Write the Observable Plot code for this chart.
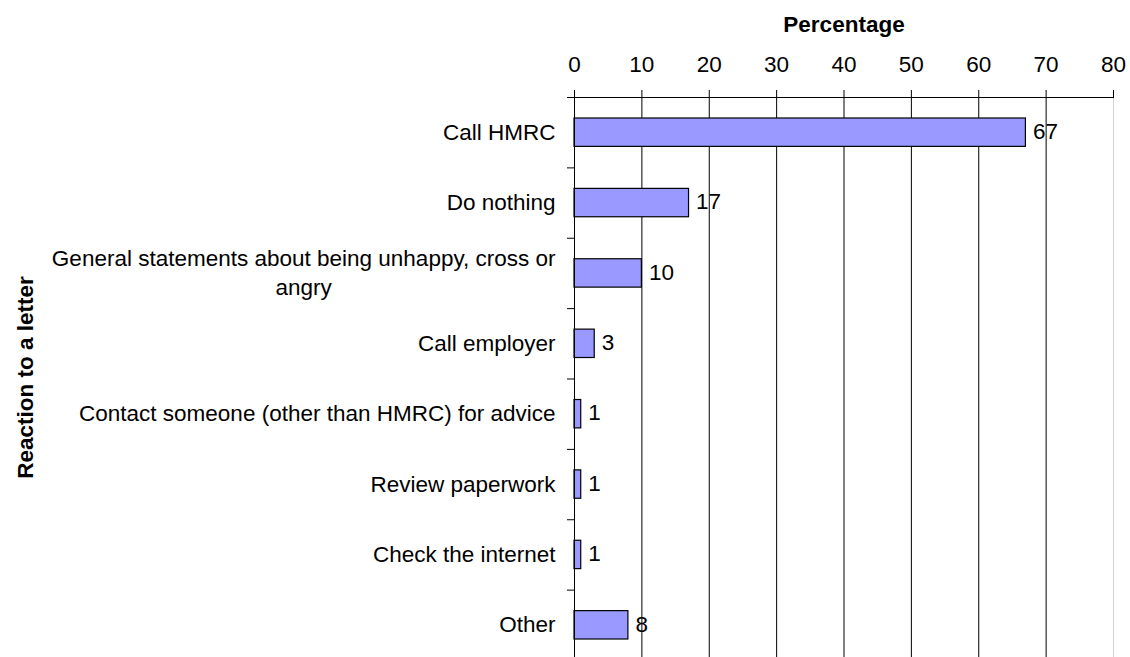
<!DOCTYPE html>
<html>
<head>
<meta charset="utf-8">
<script src="https://cdn.jsdelivr.net/npm/d3@7"></script>
<script src="https://cdn.jsdelivr.net/npm/@observablehq/plot@0.6"></script>
<style>
  html, body { margin: 0; padding: 0; background: #fff; }
  #chart svg { display: block; }
</style>
</head>
<body>
<div id="chart"></div>
<script>
const categories = [
  "Call HMRC",
  "Do nothing",
  "General statements about being unhappy, cross or\nangry",
  "Call employer",
  "Contact someone (other than HMRC) for advice",
  "Review paperwork",
  "Check the internet",
  "Other"
];
const values = [67, 17, 10, 3, 1, 1, 1, 8];
const xTicks = [0, 10, 20, 30, 40, 50, 60, 70, 80];
const xTitle = "Percentage";
const yTitle = "Reaction to a letter";

const FONT = "'Liberation Sans', Arial, sans-serif";
const FS = 22.5;

const data = categories.map((c, i) => ({category: c, value: values[i], i}));

// measure label widths so multi-line labels can be centered like the original
const ctx = document.createElement("canvas").getContext("2d");
ctx.font = `${FS}px ${FONT}`;
const labelWidth = (s) => Math.max(...s.split("\n").map(l => ctx.measureText(l).width));
const gap = 19;

const labelMarks = data.map(d =>
  Plot.text([d], {
    x: 0, y: (r) => r.i + 0.5, text: "category",
    textAnchor: "middle", lineAnchor: "middle", lineHeight: 1.27,
    dx: -(gap + labelWidth(d.category) / 2), dy: -2, fill: "black"
  })
);

const chart = Plot.plot({
  width: 1130,
  height: 657,
  marginTop: 97,
  marginLeft: 574,
  marginRight: 17,
  marginBottom: 0,
  style: {fontFamily: FONT, fontSize: `${FS}px`, color: "black", background: "white"},
  x: {domain: [0, 80]},
  y: {domain: [0, categories.length], range: [97, 660]},
  marks: [
    Plot.ruleX(xTicks.filter(t => t > 0 && t < 80), {stroke: "black"}),
    Plot.ruleX(xTicks.filter(t => t === 80), {stroke: "#d4d4d4"}),
    Plot.rect(data, {
      x1: 0, x2: "value", y1: "i", y2: d => d.i + 1,
      insetTop: 21, insetBottom: 21,
      fill: "#9999FF", stroke: "black", strokeWidth: 1.2
    }),
    Plot.ruleX([0], {stroke: "black"}),
    Plot.ruleY([0], {x1: 0, x2: 80, stroke: "black"}),
    Plot.axisX({anchor: "top", ticks: xTicks, tickSize: 8, tickPadding: 18, label: null, tickFormat: d => String(d)}),
    Plot.axisY({anchor: "left", ticks: d3.range(0, categories.length + 1), tickSize: 7, tickFormat: () => "", label: null}),
    Plot.text(data, {
      x: "value", y: d => d.i + 0.5, text: d => String(d.value),
      textAnchor: "start", lineAnchor: "middle", dx: 7, dy: -1, fill: "black"
    }),
    ...labelMarks,
    Plot.text([xTitle], {
      frameAnchor: "top", text: d => d, lineAnchor: "bottom", dy: -66,
      fontWeight: "bold", fill: "black"
    }),
    Plot.text([yTitle], {
      frameAnchor: "left", text: d => d, rotate: -90, lineAnchor: "bottom",
      textAnchor: "middle", dx: -(574 - 32), fontWeight: "bold", fill: "black"
    })
  ]
});

document.getElementById("chart").appendChild(chart);
</script>
</body>
</html>
